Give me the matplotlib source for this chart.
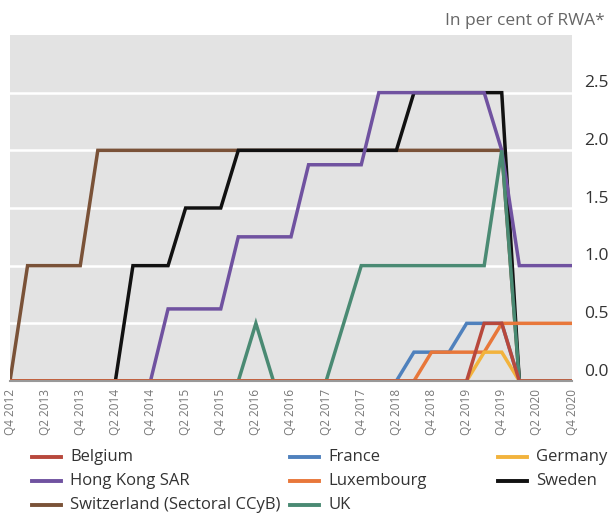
import matplotlib
matplotlib.use("Agg")
import matplotlib.pyplot as plt
from matplotlib.lines import Line2D
import numpy as np

plt.rcParams['font.family'] = ['Open Sans', 'DejaVu Sans']

# Quarter index 0 = Q4 2012 ... 32 = Q4 2020
x_labels = ['Q4 2012', 'Q2 2013', 'Q4 2013', 'Q2 2014', 'Q4 2014', 'Q2 2015',
            'Q4 2015', 'Q2 2016', 'Q4 2016', 'Q2 2017', 'Q4 2017', 'Q2 2018',
            'Q4 2018', 'Q2 2019', 'Q4 2019', 'Q2 2020', 'Q4 2020']

belgium = [0, 0, 0, 0, 0, 0, 0, 0, 0, 0, 0, 0, 0, 0, 0, 0, 0, 0, 0, 0,
           0, 0, 0, 0, 0, 0, 0, 0.5, 0.5, 0, 0, 0, 0]
france = [0, 0, 0, 0, 0, 0, 0, 0, 0, 0, 0, 0, 0, 0, 0, 0, 0, 0, 0, 0,
          0, 0, 0, 0.25, 0.25, 0.25, 0.5, 0.5, 0.5, 0, 0, 0, 0]
germany = [0, 0, 0, 0, 0, 0, 0, 0, 0, 0, 0, 0, 0, 0, 0, 0, 0, 0, 0, 0,
           0, 0, 0, 0, 0, 0, 0, 0.25, 0.25, 0, 0, 0, 0]
hong_kong = [0, 0, 0, 0, 0, 0, 0, 0, 0, 0.625, 0.625, 0.625, 0.625, 1.25, 1.25,
             1.25, 1.25, 1.875, 1.875, 1.875, 1.875, 2.5, 2.5, 2.5, 2.5, 2.5,
             2.5, 2.5, 2.0, 1.0, 1.0, 1.0, 1.0]
luxembourg = [0, 0, 0, 0, 0, 0, 0, 0, 0, 0, 0, 0, 0, 0, 0, 0, 0, 0, 0, 0,
              0, 0, 0, 0, 0.25, 0.25, 0.25, 0.25, 0.5, 0.5, 0.5, 0.5, 0.5]
sweden = [0, 0, 0, 0, 0, 0, 0, 1, 1, 1, 1.5, 1.5, 1.5, 2, 2, 2, 2, 2, 2, 2,
          2, 2, 2, 2.5, 2.5, 2.5, 2.5, 2.5, 2.5, 0, 0, 0, 0]
switzerland = [0, 1, 1, 1, 1, 2, 2, 2, 2, 2, 2, 2, 2, 2, 2, 2, 2, 2, 2, 2,
               2, 2, 2, 2, 2, 2, 2, 2, 2, 0, 0, 0, 0]
uk = [0, 0, 0, 0, 0, 0, 0, 0, 0, 0, 0, 0, 0, 0, 0.5, 0, 0, 0, 0, 0.5,
      1, 1, 1, 1, 1, 1, 1, 1, 2, 0, 0, 0, 0]

names = ['Belgium', 'France', 'Germany', 'Hong Kong SAR', 'Luxembourg',
         'Sweden', 'Switzerland (Sectoral CCyB)', 'UK']
series = {
    'Belgium': belgium, 'France': france, 'Germany': germany,
    'Hong Kong SAR': hong_kong, 'Luxembourg': luxembourg, 'Sweden': sweden,
    'Switzerland (Sectoral CCyB)': switzerland, 'UK': uk,
}
colors = {
    'Belgium': '#b8483c', 'France': '#4f81bd', 'Germany': '#f2b33d',
    'Hong Kong SAR': '#7052a0', 'Luxembourg': '#e8773a', 'Sweden': '#111111',
    'Switzerland (Sectoral CCyB)': '#7a5238', 'UK': '#4a8a73',
}
draw_order = ['Switzerland (Sectoral CCyB)', 'Sweden', 'Hong Kong SAR', 'UK',
              'France', 'Luxembourg', 'Germany', 'Belgium']

W, H = 615, 518
fig = plt.figure(figsize=(W / 100, H / 100), dpi=100)
ax = fig.add_axes([10 / W, 137 / H, 562 / W, 346 / H])
ax.set_facecolor('#e3e3e3')

xq = np.arange(len(belgium))
for n in draw_order:
    ax.plot(xq, series[n], color=colors[n], lw=2.5, solid_joinstyle='miter',
            zorder=3)

ax.set_xlim(0, len(belgium) - 1)
ax.set_ylim(0, 3.0)

# x axis: labels every 2 quarters, tick marks every 4 quarters
ax.set_xticks(np.arange(0, len(belgium), 2))
ax.set_xticklabels(x_labels, rotation=90, fontsize=8.5, color='#777777')
ax.set_xticks(np.arange(4, len(belgium), 4), minor=True)
ax.tick_params(axis='x', which='major', length=0, pad=6)
ax.tick_params(axis='x', which='minor', direction='in', length=7, width=1.5,
               color='#666666')
ax.grid(axis='x', which='minor', color='white', lw=1.8, zorder=1)

# y axis on the right, labels sitting above gridlines
yt = np.arange(0, 2.51, 0.5)
ax.set_yticks(yt)
ax.set_yticklabels([])
ax.yaxis.tick_right()
ax.tick_params(axis='y', length=0)
ax.grid(axis='y', which='major', color='white', lw=1.8, zorder=1)
for v in yt:
    ax.annotate(f'{v:.1f}', xy=(1.0, v), xycoords=('axes fraction', 'data'),
                xytext=(9, 1), textcoords='offset points', ha='left',
                va='bottom', fontsize=12.5, color='#333333')
ax.set_axisbelow(True)

for s in ['top', 'left', 'right']:
    ax.spines[s].set_visible(False)
ax.spines['bottom'].set_color('#999999')
ax.spines['bottom'].set_linewidth(1.5)
ax.spines['bottom'].set_zorder(4)

fig.text(605 / W, 1 - 21 / H, 'In per cent of RWA*', ha='right', va='center',
         fontsize=12.5, color='#666666')

# manual legend (3 columns, row-major)
col_x = [32, 290, 498]
row_y = [457, 481, 505]
for k, n in enumerate(names):
    r, c = divmod(k, 3)
    x0, y0 = col_x[c], row_y[r]
    fig.add_artist(Line2D([x0 / W, (x0 + 29) / W], [1 - y0 / H, 1 - y0 / H],
                          color=colors[n], lw=2.8, transform=fig.transFigure))
    fig.text((x0 + 38) / W, 1 - y0 / H, n, ha='left', va='center',
             fontsize=12, color='#333333')

fig.savefig('out.png', dpi=100)
